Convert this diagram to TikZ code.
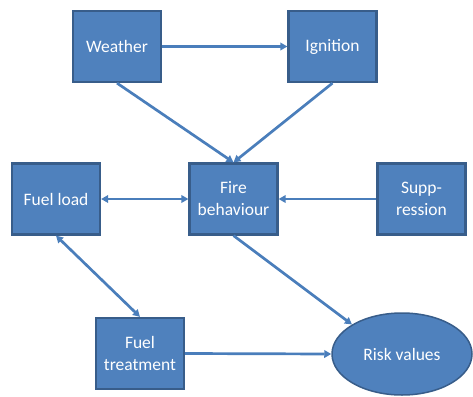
\documentclass[tikz,border=0pt]{standalone}
\usepackage{fontspec}
\setmainfont{Carlito}
\usepackage{tikz}
\usetikzlibrary{arrows.meta, shapes.geometric}
\definecolor{boxblue}{RGB}{79,129,189}
\definecolor{edgeblue}{RGB}{56,93,138}
\definecolor{linkblue}{RGB}{74,126,187}

\tikzset{
    box/.style={draw=edgeblue, fill=boxblue, line width=2.2pt, text=white,
        minimum width=88pt, minimum height=71pt, align=center,
        font=\fontsize{17.5}{22}\selectfont, inner sep=2pt},
    risk/.style={ellipse, draw=edgeblue, fill=boxblue, line width=1.5pt, text=white,
        minimum width=140pt, minimum height=82pt, font=\fontsize{17.5}{22}\selectfont},
    link/.style={draw=linkblue, line width=2.7pt, -{Triangle[length=7pt,width=7.5pt]}},
    twolink/.style={link, {Triangle[length=7pt,width=7.5pt]}-{Triangle[length=7pt,width=7.5pt]}}
}

\begin{document}
\begin{tikzpicture}[x=1pt, y=-1pt]
        \useasboundingbox (0,0) rectangle (473,396);

        % --- Boîtes ---
        \node[box] (weather) at (117,46.5) {Weather};
        \node[box] (ignition) at (332.5,46.5) {Ignition};
        \node[box] (fuelload) at (56,199) {Fuel load};
        \node[box] (fire) at (233.5,199) {Fire\\behaviour};
        \node[box] (supp) at (421.5,199) {Supp-\\ression};
        \node[box] (treat) at (140,353.5) {Fuel\\treatment};
        \node[risk] (riskval) at (402,354) {Risk values};

        % --- Liens ---
        \draw[link] (weather.east) -- (ignition.west);
        \draw[link] (weather.south) -- (fire.north);
        \draw[link] (ignition.south) -- (fire.north);
        \draw[twolink] (fuelload.east) -- (fire.west);
        \draw[link] (supp.west) -- (fire.east);
        \draw[twolink] (fuelload.south) -- (treat.north);
        \draw[link] (fire.south) -- (riskval.north west);
        \draw[link] (treat.east) -- (riskval.west);
    \end{tikzpicture}
\end{document}
